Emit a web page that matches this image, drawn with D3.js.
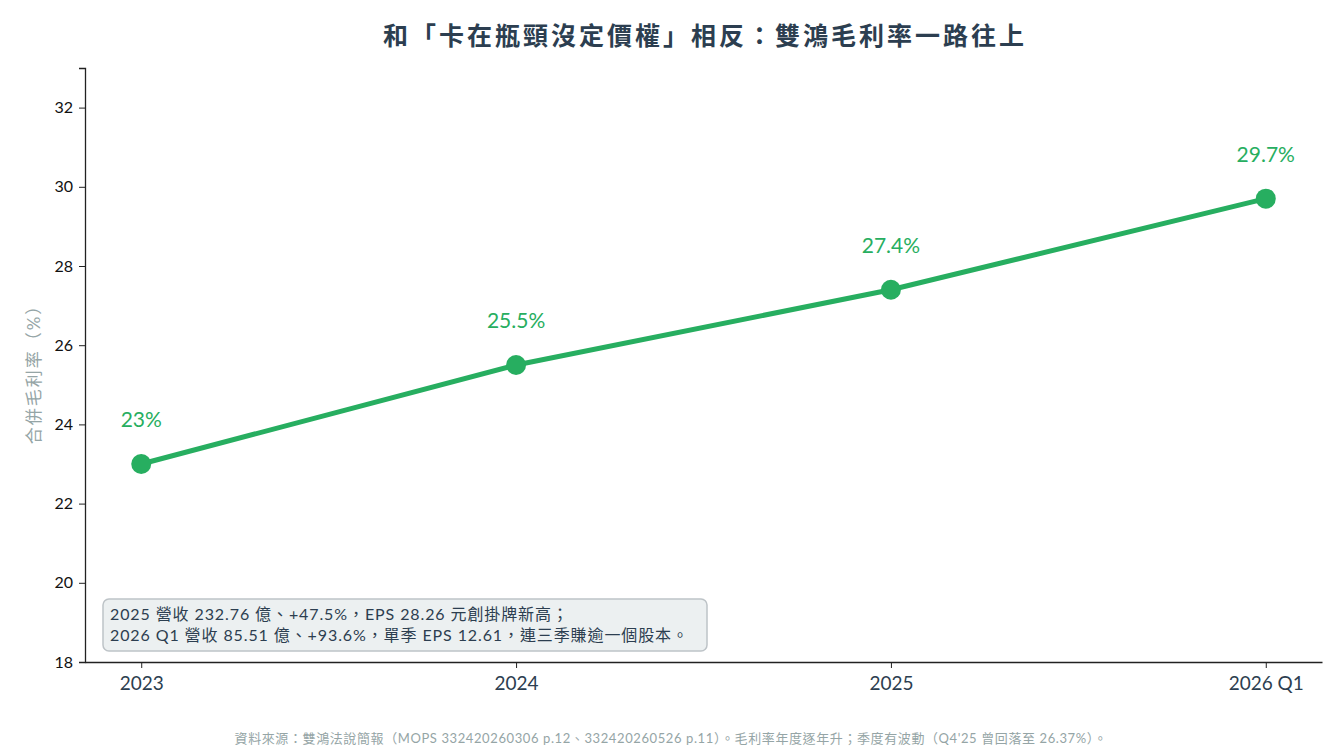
<!DOCTYPE html>
<html><head><meta charset="utf-8">
<script src="https://cdn.jsdelivr.net/npm/d3@7"></script>
<style>
body{margin:0;background:#fff;}
text{font-family:"Lato","Noto Sans CJK TC",sans-serif;}
</style></head>
<body>
<svg id="c" width="1344" height="756"></svg>
<script>
const categories = ["2023","2024","2025","2026 Q1"];
const margins = [23.0, 25.5, 27.4, 29.7];
const valueLabels = ["23%","25.5%","27.4%","29.7%"];
const yTicks = [18,20,22,24,26,28,30,32];
const title = "和「卡在瓶頸沒定價權」相反：雙鴻毛利率一路往上";
const yLabel = "合併毛利率（%）";
const noteLines = ["2025 營收 232.76 億、+47.5%，EPS 28.26 元創掛牌新高；","2026 Q1 營收 85.51 億、+93.6%，單季 EPS 12.61，連三季賺逾一個股本。"];
const footer = "資料來源：雙鴻法說簡報（MOPS 332420260306 p.12、332420260526 p.11）。毛利率年度逐年升；季度有波動（Q4'25 曾回落至 26.37%）。";

const svg = d3.select("#c");
const L=85,R=1322,T=68,B=662;
const x = d3.scaleLinear().domain([-0.15,3.15]).range([L,R]);
const y = d3.scaleLinear().domain([18,33]).range([B,T]);
const green="#27ae60", dark="#2c3e50";

svg.append("text").attr("x",705).attr("y",45).attr("text-anchor","middle")
  .attr("font-size",25).attr("font-weight",600).attr("letter-spacing",3).attr("fill",dark).text(title);

const ya = svg.append("g").attr("transform",`translate(${L},0)`)
  .call(d3.axisLeft(y).tickValues(yTicks).tickSize(6).tickPadding(6));
ya.selectAll("text").attr("font-size",16).attr("fill","#111");
ya.select(".domain").attr("stroke","#222").attr("stroke-width",1.3);
ya.selectAll(".tick line").attr("stroke","#222");

const xa = svg.append("g").attr("transform",`translate(0,${B})`)
  .call(d3.axisBottom(x).tickValues([0,1,2,3]).tickFormat(i=>categories[i]).tickSize(6).tickPadding(9).tickSizeOuter(0));
xa.select(".domain").attr("stroke","#222").attr("stroke-width",1.3);
xa.selectAll(".tick line").attr("stroke","#222");
xa.selectAll("text").attr("font-size",19).attr("fill",dark);

svg.append("text").attr("transform",`translate(40,${370}) rotate(-90)`).attr("text-anchor","middle")
  .attr("font-size",17).attr("letter-spacing",2).attr("fill","#95a5a6").text(yLabel);

const line = d3.line().x((d,i)=>x(i)).y(d=>y(d));
svg.append("path").datum(margins).attr("d",line).attr("fill","none")
  .attr("stroke",green).attr("stroke-width",5).attr("stroke-linejoin","round");
svg.selectAll("circle.pt").data(margins).join("circle").attr("class","pt")
  .attr("cx",(d,i)=>x(i)).attr("cy",d=>y(d)).attr("r",10).attr("fill",green);
svg.selectAll("text.vl").data(margins).join("text").attr("class","vl")
  .attr("x",(d,i)=>x(i)).attr("y",d=>y(d)-37).attr("text-anchor","middle")
  .attr("font-size",21).attr("fill",green).text((d,i)=>valueLabels[i]);

svg.append("rect").attr("x",103).attr("y",599).attr("width",604).attr("height",52).attr("rx",6)
  .attr("fill","#ecf0f1").attr("stroke","#bdc3c7").attr("stroke-width",1.5);
noteLines.forEach((t,i)=>svg.append("text").attr("x",110).attr("y",620+i*21)
  .attr("font-size",16).attr("letter-spacing",0.9).attr("fill",dark).text(t));

svg.append("text").attr("x",671).attr("y",743).attr("text-anchor","middle")
  .attr("font-size",13).attr("letter-spacing",0.6).attr("fill","#95a5a6").text(footer);
</script>
</body></html>
